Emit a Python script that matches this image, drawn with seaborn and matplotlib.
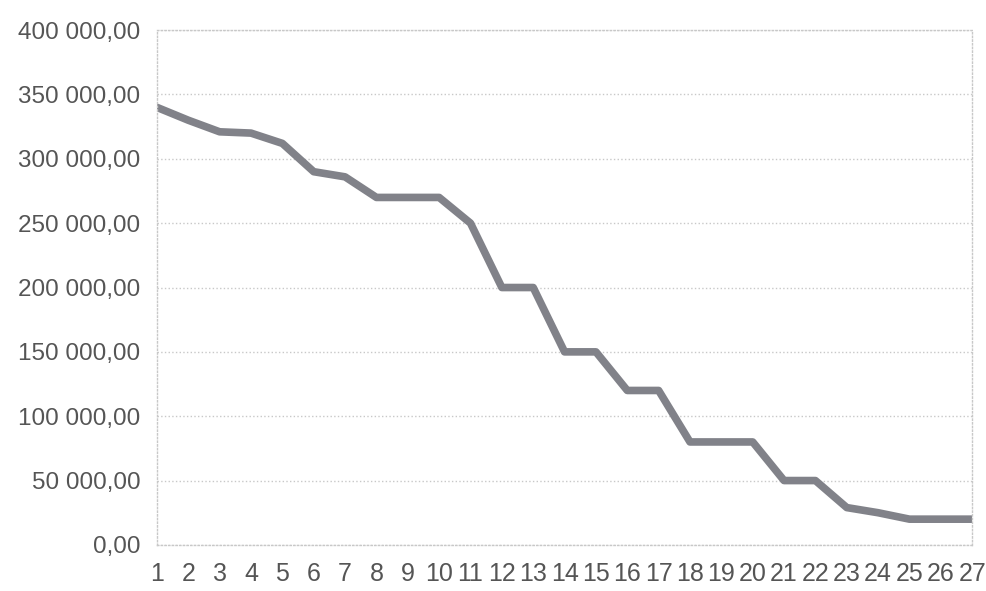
import pandas as pd
import matplotlib.pyplot as plt
import seaborn as sns
from matplotlib.ticker import FuncFormatter

# Данные
periods = list(range(1, 28))
values = [340000, 330000, 321000, 320000, 312000, 290000, 286000, 270000, 270000,
          270000, 250000, 200000, 200000, 150000, 150000, 120000, 120000, 80000,
          80000, 80000, 50000, 50000, 29000, 25000, 20000, 20000, 20000]
y_ticks = [0, 50000, 100000, 150000, 200000, 250000, 300000, 350000, 400000]

df = pd.DataFrame({'period': periods, 'value': values})

sns.set_style('white')
plt.rcParams['font.family'] = ['Liberation Sans', 'DejaVu Sans']

fig = plt.figure(figsize=(9.87, 5.91), dpi=100)
ax = fig.add_axes([0.159, 0.078, 0.826, 0.871])

sns.lineplot(data=df, x='period', y='value', color='#818289', linewidth=5.5, ax=ax)


def fmt(v, pos):
    s = f'{v:,.2f}'.replace(',', ' ').replace('.', ',')
    return s


ax.set_xlim(1, 27)
ax.set_ylim(0, 400000)
ax.set_yticks(y_ticks)
ax.yaxis.set_major_formatter(FuncFormatter(fmt))
ax.set_xticks(periods)
ax.set_xticklabels([str(p) for p in periods])
ax.set_xlabel('')
ax.set_ylabel('')

ax.grid(axis='y', color='#c8c8c8', linestyle=':', linewidth=1)
for side in ['left', 'right', 'top', 'bottom']:
    ax.spines[side].set_visible(True)
    ax.spines[side].set_color('#c8c8c8')
    ax.spines[side].set_linestyle(':')
    ax.spines[side].set_linewidth(1)

ax.tick_params(axis='both', colors='#c8c8c8', labelcolor='#555555',
               length=6, width=0.8, direction='out')
ax.tick_params(axis='x', labelsize=18, pad=6)
ax.tick_params(axis='y', labelsize=17.5, pad=6)

fig.savefig('out.png', dpi=100)
